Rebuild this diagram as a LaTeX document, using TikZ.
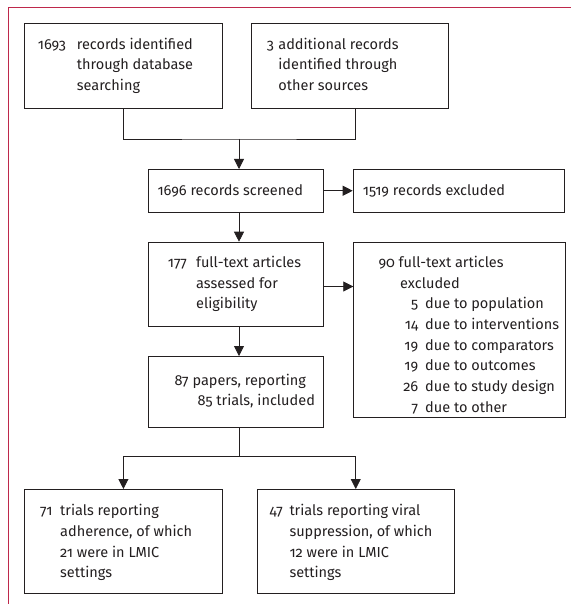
\documentclass[tikz,border=0pt]{standalone}
\usepackage{fontspec}
\setmainfont{Fira Sans}[Numbers=OldStyle]
\usetikzlibrary{arrows.meta,calc}
\definecolor{ink}{RGB}{35,31,32}
\definecolor{frame}{RGB}{190,40,75}
\newcommand{\hg}[2]{\makebox[#1pt][l]{#2}}
\newcommand{\ind}[1]{\hspace*{#1pt}}
\begin{document}
\begin{tikzpicture}[x=1pt,y=-1pt,
  box/.style={draw=ink,line width=0.8pt,anchor=north west,inner sep=0pt},
  txt/.style={anchor=base west,inner sep=0pt,text=ink,
    font=\fontsize{14.5}{20.7}\selectfont},
  conn/.style={draw=ink,line width=0.8pt},
  arr/.style={conn,-{Triangle[length=10pt,width=10pt]}}]
\useasboundingbox (0,0) rectangle (571,604);
% frame
\draw[frame,line width=1pt] (8.5,604) -- (8.5,7.3) -- (571,7.3);
% boxes
\node[box,minimum width=197.4pt,minimum height=85pt] (b1) at (24.3,22.7) {};
\node[box,minimum width=197.3pt,minimum height=85pt] (b2) at (251,22.7) {};
\node[box,minimum width=174.4pt,minimum height=42.7pt] (b3) at (148.3,169) {};
\node[box,minimum width=211.3pt,minimum height=42.7pt] (b4) at (352.7,169) {};
\node[box,minimum width=174.4pt,minimum height=84pt] (b5) at (148.3,241.7) {};
\node[box,minimum width=174.4pt,minimum height=71.3pt] (b6) at (148.3,356) {};
\node[box,minimum width=211.7pt,minimum height=175.6pt] (b7) at (353.3,241.7) {};
\node[box,minimum width=197.4pt,minimum height=104.3pt] (b8) at (24.3,489) {};
\node[box,minimum width=197.3pt,minimum height=104.3pt] (b9) at (256.7,489) {};
% texts
\node[txt] (t1) at (37.7,49.3) {\begin{tabular}[t]{@{}l@{}}\hg{39}{1693}records identified\\ \ind{39}through database\\ \ind{39}searching\end{tabular}};
\node[txt] (t2) at (266.7,49.3) {\begin{tabular}[t]{@{}l@{}}\hg{11.5}{3}additional records\\ \ind{11.5}identified through\\ \ind{11.5}other sources\end{tabular}};
\node[txt] (t3) at (157.3,195) {1696 records screened};
\node[txt] (t4) at (362.7,195) {1519 records excluded};
\node[txt] (t5) at (167.7,267.3) {\begin{tabular}[t]{@{}l@{}}\hg{28.3}{177}full-text articles\\ \ind{28.3}assessed for\\ \ind{28.3}eligibility\end{tabular}};
\node[txt] (t6) at (174.3,385) {\begin{tabular}[t]{@{}l@{}}87 papers, reporting\\ \ind{23.2}85 trials, included\end{tabular}};
\node[txt] (t7) at (378.3,267.3) {\begin{tabular}[t]{@{}l@{}}90 full-text articles\\ \ind{21.7}excluded\\
 \ind{21.7}\makebox[18pt][r]{5}\hspace{7pt}due to population\\
 \ind{21.7}\makebox[18pt][r]{14}\hspace{7pt}due to interventions\\
 \ind{21.7}\makebox[18pt][r]{19}\hspace{7pt}due to comparators\\
 \ind{21.7}\makebox[18pt][r]{19}\hspace{7pt}due to outcomes\\
 \ind{21.7}\makebox[18pt][r]{26}\hspace{7pt}due to study design\\
 \ind{21.7}\makebox[18pt][r]{7}\hspace{7pt}due to other\end{tabular}};
\node[txt] (t8) at (40,515.7) {\begin{tabular}[t]{@{}l@{}}\hg{20}{71}trials reporting\\ \ind{20}adherence, of which\\ \ind{20}21 were in LMIC\\ \ind{20}settings\end{tabular}};
\node[txt] (t9) at (269.3,515.7) {\begin{tabular}[t]{@{}l@{}}\hg{20}{47}trials reporting viral\\ \ind{20}suppression, of which\\ \ind{20}12 were in LMIC\\ \ind{20}settings\end{tabular}};
% connectors
\coordinate (j1) at (239,139);
\coordinate (b2s) at (355.3,107.7);
\coordinate (j2) at (239,456.7);
\draw[conn] (b1.south) |- (j1) -| (b2s);
\draw[arr] (j1) -- (j1 |- b3.north);
\draw[arr] (b3.east) -- (b3.east -| b4.west);
\draw[arr] (j1 |- b3.south) -- (j1 |- b5.north);
\draw[arr] (b5.east |- 0,286.5) -- (b7.west |- 0,286.5);
\draw[arr] (j1 |- b5.south) -- (j1 |- b6.north);
\draw[conn] (j1 |- b6.south) -- (j2);
\draw[arr] (j2) -| (b8.north);
\draw[arr] (j2) -| (b9.north);
\end{tikzpicture}
\end{document}
